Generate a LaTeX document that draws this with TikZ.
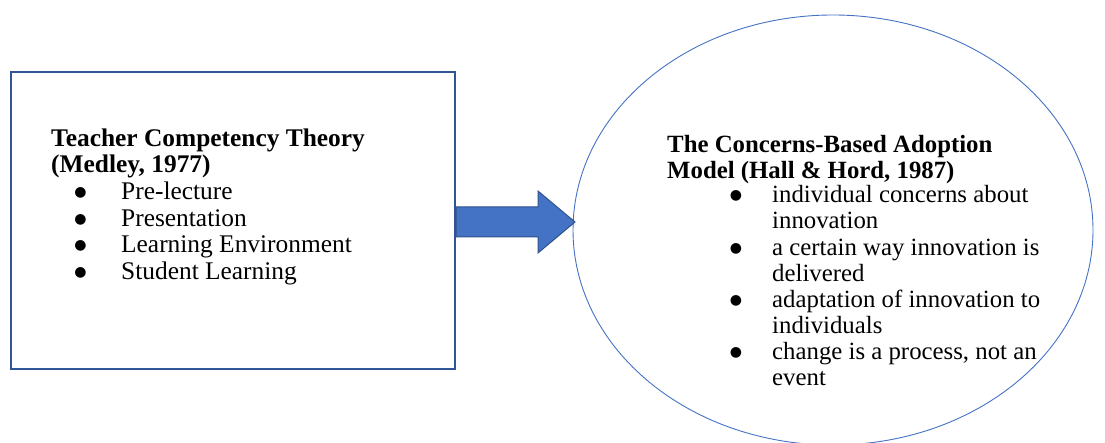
\documentclass[tikz,border=0pt]{standalone}
\usepackage{fontspec}
\setmainfont{Liberation Serif}
\newfontfamily\symfont{DejaVu Sans}
\usetikzlibrary{shapes.geometric}
\definecolor{boxblue}{HTML}{2F5597}
\definecolor{fillblue}{HTML}{4472C4}
\definecolor{edgeblue}{HTML}{2F528F}
\tikzset{
  ltxt/.style={anchor=base west, inner sep=0pt, font=\fontsize{25.4}{27}\selectfont},
  lttl/.style={ltxt, font=\fontsize{25.4}{27}\selectfont\bfseries},
  rtxt/.style={anchor=base west, inner sep=0pt, font=\fontsize{24.8}{26}\selectfont},
  rttl/.style={rtxt, font=\fontsize{24.8}{26}\selectfont\bfseries},
  bul/.style={anchor=base, inner sep=0pt, text height=12pt, text depth=0pt,
    font=\symfont\fontsize{14}{14}\selectfont},
}
\begin{document}
\begin{tikzpicture}[x=1pt,y=1pt]
\useasboundingbox (0,0) rectangle (1105,443);
% left box
\node[draw=boxblue, line width=2pt, minimum width=444pt, minimum height=297pt,
      anchor=north west, inner sep=0pt] (box) at (10,372) {};
% right ellipse
\node[draw=fillblue, ellipse, line width=0.9pt, minimum width=520pt, minimum height=430pt,
      inner sep=0pt] (ell) at (833,213) {};
% block arrow
\coordinate (tip) at (575,221);
\filldraw[fill=fillblue, draw=edgeblue, line width=1pt, line join=miter]
  (box.east |- 0,236) -- (538,236) -- (538,252) -- (tip) -- (538,190)
  -- (538,206) -- (box.east |- 0,206) -- cycle;
% left text
\node[lttl] (lt1) at (51,296) {Teacher Competency Theory};
\node[lttl] (lt2) at (51,270) {(Medley, 1977)};
\foreach \y/\t [count=\i] in {243/Pre-lecture, 216.5/Presentation, 190/Learning Environment, 163.5/Student Learning}{
  \node[bul] (lb\i) at (80.5,\y+3.2) {●};
  \node[ltxt] (li\i) at (121,\y) {\t};
}
% right text
\node[rttl] (rt1) at (667,290) {The Concerns-Based Adoption};
\node[rttl] (rt2) at (667,264.5) {Model (Hall \& Hord, 1987)};
\foreach \y [count=\i] in {240,187,135,83}{
  \node[bul] (rb\i) at (736,\y+3.2) {●};
}
\foreach \y/\t [count=\i] in {240/individual concerns about, 214/innovation,
  187/a certain way innovation is, 161/delivered,
  135/adaptation of innovation to, 109/individuals,
  83/{change is a process, not an}, 57/event}{
  \node[rtxt] (ri\i) at (772,\y) {\t};
}
\end{tikzpicture}
\end{document}
